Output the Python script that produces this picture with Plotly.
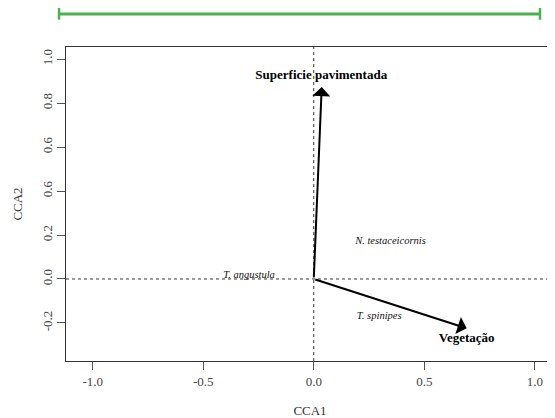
import plotly.graph_objects as go

# Biplot arrows (environmental variables)
env_names = ["Superficie pavimentada", "Vegetação"]
env_x = [0.036, 0.692]
env_y = [0.873, -0.224]
env_label_x = [0.034, 0.692]
env_label_y = [0.923, -0.270]

# Species scores
species = ["N. testaceicornis", "T. angustula", "T. spinipes"]
sp_x = [0.347, -0.293, 0.296]
sp_y = [0.170, 0.018, -0.171]

# Axis ticks
x_ticks = [-1.0, -0.5, 0.0, 0.5, 1.0]
x_ticktext = ["-1.0", "-0.5", "0.0", "0.5", "1.0"]
y_ticks = [-0.2, 0.0, 0.2, 0.4, 0.6, 0.8, 1.0]
y_ticktext = ["-0.2", "0.0", "0.2", "0.6", "0.6", "0.8", "1.0"]

# Green bar above plot (paper x extent)
bar_x = [-0.0143, 0.9713]

SERIF = "Liberation Serif, Times New Roman, serif"

fig = go.Figure()

fig.add_trace(go.Scatter(
    x=sp_x, y=sp_y, mode="text",
    text=["<i>" + s + "</i>" for s in species],
    textfont=dict(family=SERIF, size=10.5, color="#111"),
    textposition="middle center", hoverinfo="skip", showlegend=False,
))

fig.add_trace(go.Scatter(
    x=env_label_x, y=env_label_y, mode="text",
    text=["<b>" + s + "</b>" for s in env_names],
    textfont=dict(family=SERIF, size=13, color="#000"),
    textposition="middle center", hoverinfo="skip", showlegend=False,
))

annotations = []
for ex, ey in zip(env_x, env_y):
    annotations.append(dict(
        x=ex, y=ey, ax=0, ay=0, xref="x", yref="y", axref="x", ayref="y",
        showarrow=True, arrowhead=1, arrowsize=1.5, arrowwidth=2,
        arrowcolor="#000", text="", standoff=0,
    ))

shapes = [
    dict(type="line", xref="x", yref="paper", x0=0, x1=0, y0=0, y1=1,
         line=dict(color="#333", width=1, dash="dot"), layer="below"),
    dict(type="line", xref="paper", yref="y", x0=0, x1=1, y0=0, y1=0,
         line=dict(color="#333", width=1, dash="dot"), layer="below"),
    dict(type="line", xref="paper", yref="paper", x0=bar_x[0], x1=bar_x[1],
         y0=1.105, y1=1.105, line=dict(color="#4caf50", width=3)),
    dict(type="line", xref="paper", yref="paper", x0=bar_x[0], x1=bar_x[0],
         y0=1.087, y1=1.124, line=dict(color="#4caf50", width=2.5)),
    dict(type="line", xref="paper", yref="paper", x0=bar_x[1], x1=bar_x[1],
         y0=1.087, y1=1.124, line=dict(color="#4caf50", width=2.5)),
]

fig.update_layout(
    width=547, height=410,
    margin=dict(l=58, r=1, t=39, b=57),
    paper_bgcolor="white", plot_bgcolor="white",
    font=dict(family=SERIF, size=13, color="#333"),
    annotations=annotations, shapes=shapes,
    xaxis=dict(
        range=[-1.121, 1.087], tickvals=x_ticks, ticktext=x_ticktext,
        showgrid=False, zeroline=False, showline=True, mirror=True,
        linecolor="#333", linewidth=1, ticks="outside", ticklen=8,
        tickcolor="#555", tickfont=dict(family=SERIF, size=13, color="#444"),
        title=dict(text="CCA1", font=dict(family=SERIF, size=13, color="#333"), standoff=18),
    ),
    yaxis=dict(
        range=[-0.373, 1.055], tickvals=y_ticks, ticktext=y_ticktext,
        showgrid=False, zeroline=False, showline=True, mirror=True,
        linecolor="#333", linewidth=1, ticks="outside", ticklen=8,
        tickcolor="#555", tickangle=-90,
        tickfont=dict(family=SERIF, size=13, color="#444"),
        title=dict(text="CCA2", font=dict(family=SERIF, size=13, color="#333"), standoff=14),
    ),
)

fig.write_html("out.html")
